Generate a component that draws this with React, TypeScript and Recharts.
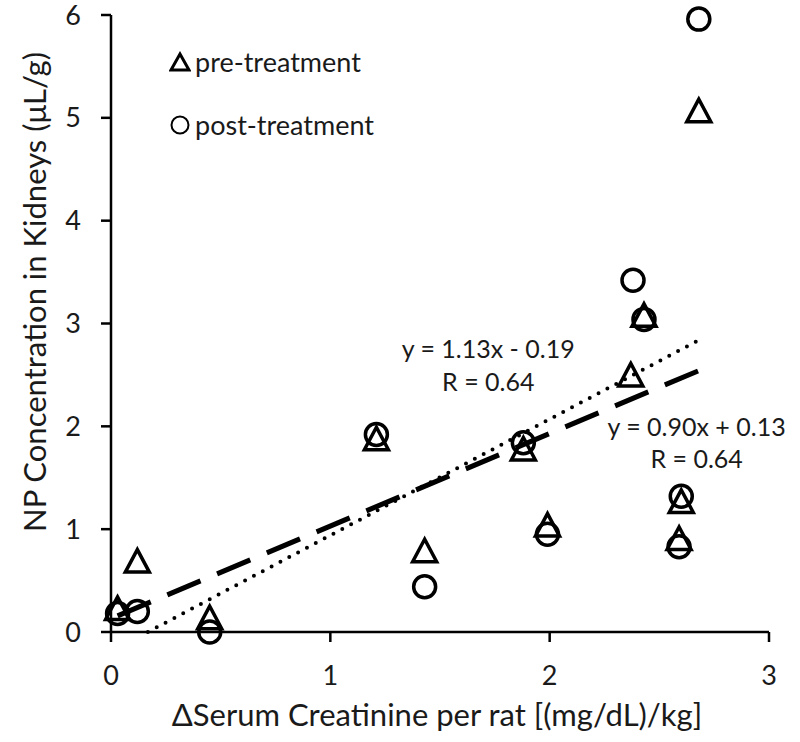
import React from 'react';
import {
  ComposedChart, Scatter, Line, XAxis, YAxis, Label, ReferenceDot, Legend,
} from 'recharts';

const preX = [0.03, 0.12, 0.45, 1.21, 1.43, 1.88, 1.99, 2.37, 2.43, 2.60, 2.59, 2.68];
const preY = [0.22, 0.68, 0.13, 1.87, 0.78, 1.77, 1.03, 2.49, 3.07, 1.26, 0.90, 5.06];
const postX = [0.03, 0.12, 0.45, 1.21, 1.43, 1.88, 1.99, 2.38, 2.43, 2.60, 2.59, 2.68];
const postY = [0.18, 0.20, 0.0, 1.92, 0.44, 1.84, 0.95, 3.42, 3.04, 1.32, 0.83, 5.96];

// linear fits (slope, intercept) as printed on the chart
const preFit = { m: 1.13, b: -0.19, text: 'y = 1.13x - 0.19', r: 'R = 0.64' };
const postFit = { m: 0.90, b: 0.13, text: 'y = 0.90x + 0.13', r: 'R = 0.64' };

const xTicks = [0, 1, 2, 3];
const yTicks = [0, 1, 2, 3, 4, 5, 6];

const FONT = 'Lato, "Open Sans", sans-serif';
const INK = '#1a1a1a';

const toPoints = (xs: number[], ys: number[]) => xs.map((x, i) => ({ x, y: ys[i] }));

// fitted line across the data range, clipped at y = 0 like the original
const fitLine = (xs: number[], fit: { m: number; b: number }) => {
  const lo = Math.max(Math.min(...xs), fit.b < 0 ? -fit.b / fit.m : 0);
  const hi = Math.max(...xs);
  return [lo, hi].map((x) => ({ x, y: fit.m * x + fit.b }));
};

const pre = toPoints(preX, preY);
const post = toPoints(postX, postY);
const preTrend = fitLine(preX, preFit);
const postTrend = fitLine(postX, postFit);

const Triangle = (props: any) => {
  const { cx, cy } = props;
  if (cx == null || cy == null) return <g />;
  return (
    <polygon
      points={`${cx},${cy - 12.5} ${cx - 12},${cy + 10} ${cx + 12},${cy + 10}`}
      fill="none" stroke="#000" strokeWidth={3.5} strokeLinejoin="miter"
    />
  );
};

const Ring = (props: any) => {
  const { cx, cy } = props;
  if (cx == null || cy == null) return <g />;
  return <circle cx={cx} cy={cy} r={11} fill="none" stroke="#000" strokeWidth={3.5} />;
};

const NoDot = () => <g />;

const LegendBox = () => (
  <div style={{ fontFamily: FONT, fontSize: 27, color: INK, lineHeight: '30px' }}>
    <div style={{ display: 'flex', alignItems: 'center', height: 30 }}>
      <svg width={22} height={22} style={{ marginRight: 4 }}>
        <polygon points="11,3 2,19 20,19" fill="none" stroke="#000" strokeWidth={3} />
      </svg>
      pre-treatment
    </div>
    <div style={{ display: 'flex', alignItems: 'center', height: 30, marginTop: 33 }}>
      <svg width={22} height={22} style={{ marginRight: 4 }}>
        <circle cx={11} cy={11} r={8.5} fill="none" stroke="#000" strokeWidth={2} />
      </svg>
      post-treatment
    </div>
  </div>
);

const eqLabel = (value: string) => ({
  value, position: 'center' as const, fill: INK, fontSize: 25, fontFamily: FONT,
});

export default function App() {
  return (
    <div style={{ position: 'absolute', left: 0, top: 0, background: '#fff' }}>
      <ComposedChart width={800} height={742} margin={{ top: 15, right: 31, bottom: 0, left: 0 }}>
        <XAxis
          type="number" dataKey="x" domain={[0, 3]} ticks={xTicks}
          height={110} tickSize={10} tickMargin={24}
          axisLine={{ stroke: '#000', strokeWidth: 2.5 }}
          tickLine={{ stroke: '#000', strokeWidth: 2.5 }}
          tick={{ fill: INK, fontSize: 27, fontFamily: FONT }}
        >
          <Label
            content={() => (
              <text x={437} y={726} textAnchor="middle" fill={INK} fontSize={31} fontFamily={FONT}>
                ΔSerum Creatinine per rat [(mg/dL)/kg]
              </text>
            )}
          />
        </XAxis>
        <YAxis
          type="number" dataKey="y" domain={[0, 6]} ticks={yTicks}
          width={111} tickSize={10} tickMargin={20}
          axisLine={{ stroke: '#000', strokeWidth: 2.5 }}
          tickLine={{ stroke: '#000', strokeWidth: 2.5 }}
          tick={{ fill: INK, fontSize: 27, fontFamily: FONT }}
        >
          <Label
            content={() => (
              <text
                x={46} y={292} transform="rotate(-90 46 292)" textAnchor="middle"
                fill={INK} fontSize={31} fontFamily={FONT}
              >
                NP Concentration in Kidneys (μL/g)
              </text>
            )}
          />
        </YAxis>
        <Legend
          layout="horizontal" verticalAlign="middle" align="center"
          wrapperStyle={{ left: 169, top: 47, width: 'auto' }}
          content={() => <LegendBox />}
        />
        <Line
          data={preTrend} dataKey="y" type="linear" dot={false} activeDot={false}
          stroke="#000" strokeWidth={4} strokeDasharray="0 10" strokeLinecap="round"
          isAnimationActive={false} legendType="none"
        />
        <Line
          data={postTrend} dataKey="y" type="linear" dot={false} activeDot={false}
          stroke="#000" strokeWidth={5} strokeDasharray="36 18"
          isAnimationActive={false} legendType="none"
        />
        <Scatter name="pre-treatment" data={pre} shape={Triangle} isAnimationActive={false} />
        <Scatter name="post-treatment" data={post} shape={Ring} isAnimationActive={false} />
        <ReferenceDot x={1.72} y={2.75} r={0} shape={NoDot} label={eqLabel(preFit.text)} />
        <ReferenceDot x={1.72} y={2.43} r={0} shape={NoDot} label={eqLabel(preFit.r)} />
        <ReferenceDot x={2.67} y={1.99} r={0} shape={NoDot} label={eqLabel(postFit.text)} />
        <ReferenceDot x={2.67} y={1.68} r={0} shape={NoDot} label={eqLabel(postFit.r)} />
      </ComposedChart>
    </div>
  );
}
